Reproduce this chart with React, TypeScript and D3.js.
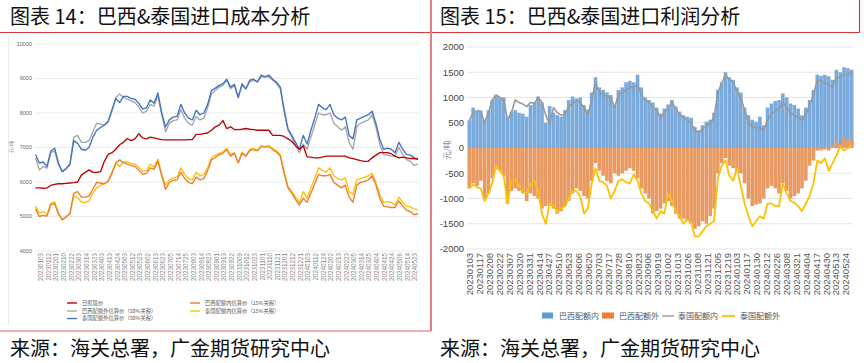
import React from "react";
import * as d3 from "d3";

// ---------- Left chart (图表14) ----------
const leftLabels = [
  "20230103","20230112","20230201","20230210","20230222","20230303","20230314","20230323","20230403","20230413",
  "20230424","20230503","20230512","20230523","20230602","20230613","20230623","20230705","20230714","20230725",
  "20230803","20230814","20230823","20230901","20230913","20230922","20231009","20231012","20231023","20231101",
  "20231110","20231121","20231201","20231212","20231221","20240103","20240112","20240124","20240202","20240213",
  "20240223","20240305","20240314","20240325","20240404","20240415","20240424","20240506","20240514","20240523",
];
const leftTicks = [4000, 5000, 6000, 7000, 8000, 9000, 10000];

const rizhaoSpot = [
  5830,5830,5820,5830,5900,5930,5950,5950,5960,5970,5980,6000,6200,6280,6350,6280,6280,6300,6600,6800,
  6850,6950,7080,7150,7260,7200,7250,7400,7280,7250,7300,7280,7250,7230,7220,7220,7220,7220,7220,7220,
  7230,7230,7380,7380,7400,7420,7500,7600,7650,7780,7550,7600,7520,7520,7530,7550,7530,7520,7500,7500,
  7500,7500,7350,7350,7350,7320,7250,7180,7050,6950,7050,6730,6720,6700,6700,6720,6750,6750,6750,6750,
  6750,6750,6700,6680,6650,6620,6600,6600,6700,6780,6850,6850,6850,6820,6750,6700,6720,6700,6680,6680,
  6660,
];
const brazilOut50 = [
  6700,6350,6450,6400,6850,6900,6500,6300,6400,6530,7300,7350,7150,7150,7200,7450,7700,7680,7650,7750,
  8050,8450,8550,8450,8400,8350,8300,8180,8000,8050,8250,8200,8500,7950,7450,7700,7780,7800,8100,7850,
  7700,7650,7900,7800,7850,8150,8550,8650,8750,8800,8950,8700,8800,8450,8800,8700,8900,8950,8900,9050,
  9050,9050,8950,8850,8700,8050,7500,7300,7050,6850,7100,6950,7300,7650,8000,7950,7950,8000,7700,7600,
  7500,7600,7150,6950,7600,7700,7750,7800,7950,7600,7100,6800,6780,6750,6750,7000,6800,6650,6600,6480,
  6520,
];
const thaiOut50 = [
  6800,6550,6580,6450,6900,6980,6550,6300,6380,6500,7200,7120,6950,6920,7000,7300,7500,7580,7650,7750,
  8100,8420,8300,8480,8480,8420,8400,8280,8120,8150,8380,8280,8580,8000,7600,7800,7880,7900,8250,8000,
  7850,7800,8080,7950,8000,8250,8650,8720,8800,8850,8980,8750,8830,8450,8850,8700,8950,8980,8900,9100,
  9050,9100,8980,8900,8750,8100,7550,7350,7150,6950,7350,7100,7500,7850,8250,8150,8100,8250,7950,7850,
  7800,7880,7350,7250,7800,7850,7900,7950,8050,7700,7250,6950,6980,6950,6850,7150,6950,6800,6780,6700,
  6680,
];
const brazilIn15 = [
  5220,5000,5030,5010,5350,5370,5070,4910,4990,5090,5680,5720,5560,5560,5600,5790,5990,5970,5950,6020,
  6250,6560,6640,6560,6520,6480,6450,6350,6220,6250,6410,6370,6600,6180,5790,5990,6050,6060,6290,6100,
  5990,5950,6140,6060,6100,6330,6640,6710,6790,6830,6940,6750,6830,6560,6830,6750,6910,6940,6910,7020,
  7020,7020,6940,6870,6750,6250,5830,5680,5490,5330,5530,5410,5680,5950,6220,6180,6180,6220,5990,5910,
  5830,5910,5560,5410,5910,5990,6020,6060,6180,5910,5530,5300,5280,5260,5260,5450,5300,5180,5140,5050,
  5080,
];
const thaiIn15 = [
  5300,5100,5150,5050,5380,5430,5100,4900,4980,5080,5600,5550,5420,5400,5450,5680,5830,5900,5950,6030,
  6300,6540,6450,6580,6580,6540,6520,6430,6310,6330,6510,6430,6660,6220,5910,6060,6120,6140,6410,6220,
  6100,6060,6280,6180,6220,6410,6710,6770,6830,6870,6970,6790,6850,6560,6870,6750,6950,6970,6910,7060,
  7020,7060,6970,6910,6790,6290,5870,5720,5560,5410,5720,5530,5830,6100,6410,6330,6290,6410,6180,6100,
  6060,6120,5720,5640,6060,6100,6140,6180,6250,5990,5640,5410,5430,5410,5330,5560,5410,5300,5280,5220,
  5200,
];

// ---------- Right chart (图表15) ----------
const rightLabels = [
  "20230103","20230117","20230208","20230222","20230307","20230320","20230331","20230414","20230427","20230510",
  "20230523","20230606","20230620","20230703","20230717","20230728","20230810","20230823","20230906","20230919",
  "20231002","20231013","20231026","20231108","20231121","20231205","20231219","20240103","20240117","20240130",
  "20240212","20240226","20240308","20240321","20240404","20240417","20240430","20240513","20240524",
];
const rightTicks = [-2000, -1500, -1000, -500, 0, 500, 1000, 1500, 2000];

const brazilInProfit = [
  550,800,720,740,560,750,950,1050,1000,1000,600,720,750,700,680,620,850,900,1020,900,
  500,830,700,650,620,750,950,1020,980,1000,850,760,1100,1400,1200,1150,1100,1050,850,1150,
  1200,1300,1330,1300,1450,1200,1000,950,900,800,680,780,860,950,820,720,650,620,600,420,
  350,450,520,560,700,1150,1300,1500,1400,1350,1200,1100,800,650,560,520,620,450,800,880,
  930,950,1080,1000,880,850,780,650,800,950,1150,1450,1430,1450,1420,1350,1550,1500,1600,1580,
  1550,
];
const brazilOutProfit = [
  -800,-700,-750,-650,-1000,-900,-600,-420,-450,-550,-1100,-850,-800,-850,-900,-1050,-900,-950,-1000,-1200,
  -1150,-1150,-1200,-1300,-1250,-1150,-1050,-900,-800,-850,-950,-1000,-650,-300,-450,-550,-650,-700,-500,-550,
  -500,-450,-400,-450,-600,-800,-900,-1000,-1300,-1250,-1200,-1100,-1050,-1150,-1300,-1400,-1400,-1450,-1500,-1600,
  -1550,-1450,-1500,-1350,-1200,-500,-300,-200,-350,-400,-450,-500,-700,-1000,-1150,-1120,-1100,-1000,-800,-750,
  -800,-900,-700,-850,-1000,-950,-900,-800,-650,-350,-250,-50,-50,-30,-50,50,120,80,200,150,
  180,
];
const thaiInProfit = [
  550,700,740,720,500,700,950,1050,1000,960,550,700,950,900,870,820,900,880,1000,900,
  650,470,800,700,650,660,820,880,950,900,800,650,950,1300,1100,1050,1030,1000,800,1050,
  1100,1150,1200,1200,1250,1050,950,900,800,750,600,700,780,900,780,650,600,550,500,350,
  300,380,430,500,600,1100,1280,1450,1350,1300,1120,1000,750,500,430,400,400,350,550,680,
  720,780,900,800,700,650,600,550,650,850,1050,1350,1330,1300,1250,1200,1400,1400,1450,1450,
  1500,
];
const thaiOutProfit = [
  -800,-720,-780,-800,-1050,-900,-700,-350,-450,-550,-1100,-650,-620,-750,-850,-900,-720,-650,-850,-1300,
  -1500,-1100,-1150,-1250,-1200,-1150,-1000,-850,-850,-950,-1300,-1200,-700,-400,-650,-680,-750,-1000,-850,-650,
  -620,-680,-700,-520,-650,-900,-1050,-1100,-1250,-1400,-1250,-1300,-900,-1050,-1250,-1350,-1500,-1420,-1480,-1750,
  -1750,-1650,-1550,-1500,-1450,-600,-350,-250,-550,-650,-400,-750,-1100,-1350,-1550,-1450,-1350,-1400,-1100,-1100,
  -1150,-1150,-700,-900,-1050,-1080,-1150,-1250,-1100,-950,-700,-250,-300,-200,-450,-300,-150,30,-50,0,
  50,
];

const CJK = "'Noto Sans CJK SC', 'Noto Sans', sans-serif";
const NUM = "'Liberation Sans', Arial, sans-serif";
const RED = "#d9363c";

export default function App() {
  // left scales
  const lx = d3.scaleLinear().domain([0, rizhaoSpot.length - 1]).range([35.5, 418]);
  const ly = d3.scaleLinear().domain([4000, 10000]).range([251, 44]);
  const lLab = d3.scalePoint<string>().domain(leftLabels).range([41, 415]);
  const lLine = d3.line<number>().x((_, i) => lx(i)).y((d) => ly(d));

  // right scales
  const n = brazilInProfit.length;
  const rx = d3.scaleBand<number>().domain(d3.range(n)).range([467.5, 853.5]).paddingInner(0.05);
  const ry = d3.scaleLinear().domain([-2000, 2000]).range([249, 47]);
  const rLab = d3.scalePoint<string>().domain(rightLabels).range([470, 846]);
  const rLine = d3.line<number>().x((_, i) => (rx(i) as number) + rx.bandwidth() / 2).y((d) => ry(d));

  const leftSeries = [
    { name: "泰国配额内估算价（15%关税）", data: thaiIn15, color: "#FFC000" },
    { name: "巴西配额内估算价（15%关税）", data: brazilIn15, color: "#ED7D31" },
    { name: "巴西配额外估算价（50%关税）", data: brazilOut50, color: "#A5A5A5" },
    { name: "泰国配额外估算价（50%关税）", data: thaiOut50, color: "#4472C4" },
    { name: "日照现价", data: rizhaoSpot, color: "#C00000" },
  ];
  const leftLegend = [
    { name: "日照现价", color: "#C00000", x: 67, y: 303 },
    { name: "巴西配额外估算价（50%关税）", color: "#A5A5A5", x: 67, y: 311 },
    { name: "泰国配额外估算价（50%关税）", color: "#4472C4", x: 67, y: 318.5 },
    { name: "巴西配额内估算价（15%关税）", color: "#ED7D31", x: 190, y: 303 },
    { name: "泰国配额内估算价（15%关税）", color: "#FFC000", x: 190, y: 311 },
  ];

  return (
    <svg width={864} height={363} style={{ position: "absolute", left: 0, top: 0, background: "#fff" }}>
      <rect x={0} y={0} width={864} height={363} fill="#fff" />
      {/* titles */}
      <text x={10} y={24} fontFamily={CJK} fontSize={20} fill="#111">图表 14：巴西&amp;泰国进口成本分析</text>
      <text x={440} y={24} fontFamily={CJK} fontSize={20} fill="#111">图表 15：巴西&amp;泰国进口利润分析</text>
      {/* frames */}
      <line x1={0} x2={430} y1={32.5} y2={32.5} stroke={RED} strokeWidth={1.2} />
      <line x1={432} x2={860} y1={32.5} y2={32.5} stroke={RED} strokeWidth={1.2} />
      <line x1={431} x2={431} y1={0} y2={331} stroke={RED} strokeWidth={1.6} opacity={0.8} />
      <line x1={859.5} x2={859.5} y1={0} y2={33} stroke={RED} strokeWidth={1.2} />
      <line x1={0} x2={431} y1={331} y2={331} stroke={RED} strokeWidth={1.2} opacity={0.8} />
      <line x1={8.5} x2={8.5} y1={36} y2={325} stroke="#e6e6e6" strokeWidth={0.8} />

      {/* ---------- left chart ---------- */}
      {leftTicks.map((t) => (
        <g key={"lt" + t}>
          <line x1={35} x2={419} y1={ly(t)} y2={ly(t)} stroke="#e4e4e4" strokeWidth={0.8} />
          <text x={32} y={ly(t)} dy="0.35em" textAnchor="end" fontFamily={NUM} fontSize={5.5} fill="#666">{t}</text>
        </g>
      ))}
      <text transform={`translate(13,147) rotate(-90)`} textAnchor="middle" fontFamily={CJK} fontSize={5} fill="#888">元/吨</text>
      {leftLabels.map((l) => (
        <text key={"ll" + l} transform={`translate(${lLab(l)},253) rotate(-90)`} textAnchor="end" dy="0.35em"
          fontFamily={NUM} fontSize={6.3} fill="#888">{l}</text>
      ))}
      {leftSeries.map((s) => (
        <path key={s.name} d={lLine(s.data) || ""} fill="none" stroke={s.color} strokeWidth={1.35} strokeLinejoin="round" />
      ))}
      {leftLegend.map((s) => (
        <g key={"lg" + s.name}>
          <line x1={s.x} x2={s.x + 10} y1={s.y} y2={s.y} stroke={s.color} strokeWidth={1.4} />
          <text x={s.x + 15} y={s.y} dy="0.35em" fontFamily={CJK} fontSize={5.3} fill="#555">{s.name}</text>
        </g>
      ))}

      {/* ---------- right chart ---------- */}
      {rightTicks.map((t) => (
        <g key={"rt" + t}>
          <line x1={467} x2={853} y1={ry(t)} y2={ry(t)} stroke="#e2e2e2" strokeWidth={0.9} />
          <text x={464} y={ry(t)} dy="0.35em" textAnchor="end" fontFamily={NUM} fontSize={9.5} fill="#444">{t}</text>
        </g>
      ))}
      <text transform={`translate(450,150) rotate(-90)`} textAnchor="middle" fontFamily={CJK} fontSize={8} fill="#888">元/吨</text>
      {rightLabels.map((l) => (
        <text key={"rl" + l} transform={`translate(${rLab(l)},253) rotate(-90)`} textAnchor="end" dy="0.35em"
          fontFamily={NUM} fontSize={9.5} fill="#555">{l}</text>
      ))}
      {brazilInProfit.map((v, i) => (
        <rect key={"bi" + i} x={rx(i)} width={rx.bandwidth()} y={ry(Math.max(0, v))} height={Math.abs(ry(v) - ry(0))} fill="#7aabdc" />
      ))}
      {brazilOutProfit.map((v, i) => (
        <rect key={"bo" + i} x={rx(i)} width={rx.bandwidth()} y={ry(Math.max(0, v))} height={Math.abs(ry(v) - ry(0))} fill="#e89a63" />
      ))}
      <path d={rLine(thaiInProfit) || ""} fill="none" stroke="#999999" strokeWidth={1.6} strokeLinejoin="round" />
      <path d={rLine(thaiOutProfit) || ""} fill="none" stroke="#FFC000" strokeWidth={1.8} strokeLinejoin="round" />
      {/* right legend */}
      <rect x={542} y={312.5} width={11} height={6} fill="#5B9BD5" />
      <text x={559} y={316} dy="0.35em" fontFamily={CJK} fontSize={8} fill="#555">巴西配额内</text>
      <rect x={602} y={312.5} width={12} height={6} fill="#ED7D31" />
      <text x={619} y={316} dy="0.35em" fontFamily={CJK} fontSize={8} fill="#555">巴西配额外</text>
      <line x1={662} x2={674} y1={316} y2={316} stroke="#A5A5A5" strokeWidth={1.6} />
      <text x={678} y={316} dy="0.35em" fontFamily={CJK} fontSize={8} fill="#555">泰国配额内</text>
      <line x1={722} x2={735} y1={316} y2={316} stroke="#FFC000" strokeWidth={1.8} />
      <text x={740} y={316} dy="0.35em" fontFamily={CJK} fontSize={8} fill="#555">泰国配额外</text>

      {/* sources */}
      <text x={10} y={356} fontFamily={CJK} fontSize={20} fill="#111">来源：海关总署，广金期货研究中心</text>
      <text x={440} y={356} fontFamily={CJK} fontSize={20} fill="#111">来源：海关总署，广金期货研究中心</text>
    </svg>
  );
}
